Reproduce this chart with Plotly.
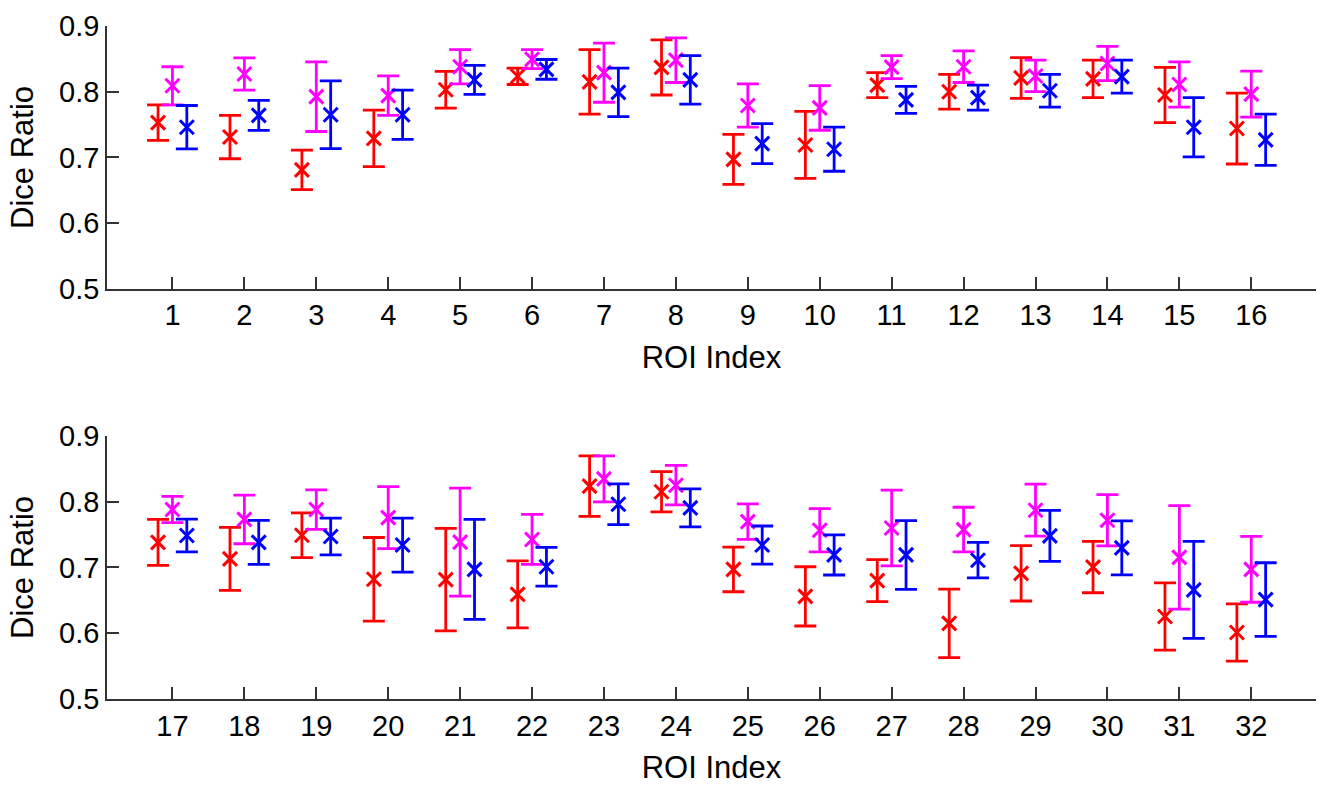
import plotly.graph_objects as go

roi = list(range(1, 33))

red_mean = [0.753, 0.731, 0.681, 0.729, 0.803, 0.8235, 0.815, 0.837, 0.697, 0.719, 0.810, 0.800, 0.821, 0.8195, 0.795, 0.744,
            0.738, 0.713, 0.749, 0.682, 0.6815, 0.659, 0.8236, 0.815, 0.697, 0.656, 0.680, 0.615, 0.691, 0.7005, 0.6254, 0.601]
red_err = [0.027, 0.033, 0.030, 0.043, 0.028, 0.0125, 0.049, 0.042, 0.038, 0.051, 0.019, 0.0265, 0.031, 0.0285, 0.042, 0.054,
           0.035, 0.048, 0.034, 0.0635, 0.078, 0.051, 0.046, 0.0305, 0.034, 0.045, 0.032, 0.052, 0.042, 0.039, 0.051, 0.0435]

mag_mean = [0.809, 0.827, 0.7925, 0.794, 0.838, 0.8495, 0.829, 0.848, 0.779, 0.7754, 0.8375, 0.838, 0.824, 0.843, 0.811, 0.7964,
            0.788, 0.773, 0.788, 0.7757, 0.7385, 0.7425, 0.8346, 0.825, 0.7697, 0.7565, 0.760, 0.7575, 0.787, 0.7717, 0.7152, 0.6971]
mag_err = [0.029, 0.0245, 0.053, 0.030, 0.026, 0.0145, 0.045, 0.034, 0.033, 0.034, 0.0175, 0.024, 0.024, 0.026, 0.0344, 0.035,
           0.020, 0.037, 0.030, 0.047, 0.082, 0.038, 0.035, 0.030, 0.027, 0.033, 0.0575, 0.034, 0.0395, 0.039, 0.0786, 0.050]

blue_mean = [0.746, 0.764, 0.765, 0.765, 0.818, 0.834, 0.799, 0.818, 0.721, 0.7125, 0.7875, 0.791, 0.8015, 0.823, 0.746, 0.7268,
             0.7485, 0.738, 0.747, 0.734, 0.697, 0.701, 0.796, 0.7905, 0.734, 0.719, 0.719, 0.711, 0.748, 0.7297, 0.6659, 0.6511]
blue_err = [0.033, 0.0227, 0.0515, 0.0375, 0.022, 0.015, 0.037, 0.037, 0.0305, 0.0335, 0.0205, 0.019, 0.025, 0.025, 0.045, 0.039,
            0.025, 0.0335, 0.028, 0.041, 0.076, 0.0295, 0.031, 0.029, 0.029, 0.0305, 0.0523, 0.027, 0.0388, 0.041, 0.0738, 0.056]

series = [
    ("red", red_mean, red_err, -0.2, "#FF0000"),
    ("magenta", mag_mean, mag_err, 0.0, "#FF00FF"),
    ("blue", blue_mean, blue_err, 0.2, "#0000FF"),
]

FONT = "Liberation Sans, Arial, sans-serif"
fig = go.Figure()

for panel, (xa, ya, lo, hi) in enumerate([("x", "y", 0, 16), ("x2", "y2", 16, 32)]):
    for name, mean, err, off, col in series:
        fig.add_trace(go.Scatter(
            x=[r + off for r in roi[lo:hi]], y=mean[lo:hi],
            error_y=dict(type="data", array=err[lo:hi], visible=True, color=col, thickness=2.8, width=11),
            mode="markers",
            marker=dict(symbol="x-thin", size=14, color=col, line=dict(color=col, width=3)),
            xaxis=xa, yaxis=ya, showlegend=False, name=name,
        ))

axis_common = dict(
    showline=True, linecolor="#333333", linewidth=1.5,
    ticks="inside", ticklen=12, tickwidth=1.5, tickcolor="#333333",
    showgrid=False, zeroline=False, mirror=False,
    tickfont=dict(family=FONT, size=29, color="#000000"),
)
title_font = dict(family=FONT, size=31, color="#000000")

fig.update_layout(
    width=1326, height=789,
    paper_bgcolor="white", plot_bgcolor="white",
    margin=dict(l=107, r=10, t=18, b=88),
    xaxis=dict(domain=[0, 1], range=[0.09, 16.9], tickmode="array", tickvals=roi[0:16],
               ticktext=[str(r) for r in roi[0:16]], anchor="y",
               title=dict(text="ROI Index", font=title_font, standoff=16),
               **axis_common),
    yaxis=dict(domain=[0.6094, 1], range=[0.5, 0.9], tickvals=[0.5, 0.6, 0.7, 0.8, 0.9],
               ticktext=["0.5", "0.6", "0.7", "0.8", "0.9"], anchor="x",
               title=dict(text="Dice Ratio", font=title_font, standoff=16),
               **axis_common),
    xaxis2=dict(domain=[0, 1], range=[16.09, 32.9], tickmode="array", tickvals=roi[16:32],
                ticktext=[str(r) for r in roi[16:32]], anchor="y2",
                title=dict(text="ROI Index", font=title_font, standoff=16),
                **axis_common),
    yaxis2=dict(domain=[0, 0.391], range=[0.5, 0.9], tickvals=[0.5, 0.6, 0.7, 0.8, 0.9],
                ticktext=["0.5", "0.6", "0.7", "0.8", "0.9"], anchor="x2",
                title=dict(text="Dice Ratio", font=title_font, standoff=16),
                **axis_common),
)

fig.write_html("out.html", config={"displayModeBar": False})

# remove default page margin so the 1326x789 figure fills the window exactly
with open("out.html", "r", encoding="utf-8") as f:
    html = f.read()
html = html.replace("<head>", "<head><style>html,body{margin:0;padding:0;overflow:hidden;}</style>", 1)
with open("out.html", "w", encoding="utf-8") as f:
    f.write(html)
